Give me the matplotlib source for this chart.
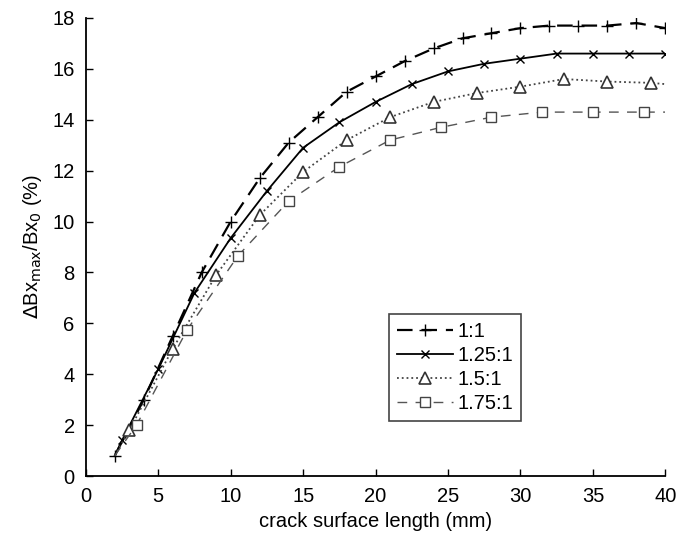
import numpy as np
import matplotlib
matplotlib.use("Agg")
import matplotlib.pyplot as plt

plt.rcParams['font.family'] = ['Liberation Sans', 'DejaVu Sans']

# 1:1 series (plus markers)
x_11 = [2, 4, 6, 8, 10, 12, 14, 16, 18, 20, 22, 24, 26, 28, 30, 32, 34, 36, 38, 40]
y_11 = [0.8, 3.0, 5.5, 8.0, 10.0, 11.7, 13.1, 14.1, 15.1, 15.7, 16.3, 16.8, 17.2, 17.4,
        17.6, 17.7, 17.7, 17.7, 17.8, 17.6]

# 1.25:1 series (x markers), first point has no marker
x_125 = [2, 2.5, 5, 7.5, 10, 12.5, 15, 17.5, 20, 22.5, 25, 27.5, 30, 32.5, 35, 37.5, 40]
y_125 = [0.8, 1.4, 4.2, 7.2, 9.35, 11.2, 12.9, 13.9, 14.7, 15.4, 15.9, 16.2, 16.4,
         16.6, 16.6, 16.6, 16.6]

# 1.5:1 series (triangles), first and last point without marker
x_15 = [2, 3, 6, 9, 12, 15, 18, 21, 24, 27, 30, 33, 36, 39, 40]
y_15 = [0.8, 1.8, 5.0, 7.9, 10.25, 11.95, 13.2, 14.1, 14.7, 15.05, 15.3, 15.6, 15.5,
        15.45, 15.4]

# 1.75:1 series (squares), first and last point without marker
x_175 = [2, 3.5, 7, 10.5, 14, 17.5, 21, 24.5, 28, 31.5, 35, 38.5, 40]
y_175 = [0.8, 2.0, 5.75, 8.65, 10.8, 12.15, 13.2, 13.7, 14.1, 14.3, 14.3, 14.3, 14.3]

fig = plt.figure(figsize=(6.81, 5.44), dpi=100)
ax = fig.add_axes([0.126, 0.125, 0.851, 0.842])

ax.plot(x_11, y_11, color='black', lw=1.6, dashes=(7, 4), marker='+', ms=8, mew=1.0,
        label='1:1')
ax.plot(x_125, y_125, color='black', lw=1.3, ls='-', marker='x', ms=6, mew=1.0,
        markevery=list(range(1, len(x_125))), label='1.25:1')
ax.plot(x_15, y_15, color='#444444', lw=1.3, ls=':', marker='^', ms=8, mew=1.2,
        mfc='white', mec='#333333', markevery=list(range(1, len(x_15) - 1)), label='1.5:1')
ax.plot(x_175, y_175, color='#555555', lw=1.0, dashes=(7, 6), marker='s', ms=7.5, mew=1.0,
        mfc='white', mec='#444444', markevery=list(range(1, len(x_175) - 1)),
        label='1.75:1')

ax.set_xlim(0, 40)
ax.set_ylim(0, 18)
ax.set_xticks(np.arange(0, 41, 5))
ax.set_yticks(np.arange(0, 19, 2))
ax.spines['top'].set_visible(False)
ax.spines['right'].set_visible(False)
ax.spines['left'].set_linewidth(1.3)
ax.spines['bottom'].set_linewidth(1.3)
ax.tick_params(direction='in', length=5, width=1.0, labelsize=14.5, pad=8)

ax.set_xlabel('crack surface length (mm)', fontsize=14.5, labelpad=4)
ax.set_ylabel(r'$\Delta$Bx$_{\mathrm{max}}$/Bx$_0$ (%)', fontsize=14.5, labelpad=6)

leg = ax.legend(loc='lower left', bbox_to_anchor=(0.505, 0.098), fontsize=14.5,
                handlelength=2.8, handletextpad=0.2, labelspacing=0.25,
                borderpad=0.4, fancybox=False, framealpha=1)
leg.get_frame().set_edgecolor('#444444')
leg.get_frame().set_linewidth(1.2)

plt.savefig('out.png', dpi=100)
